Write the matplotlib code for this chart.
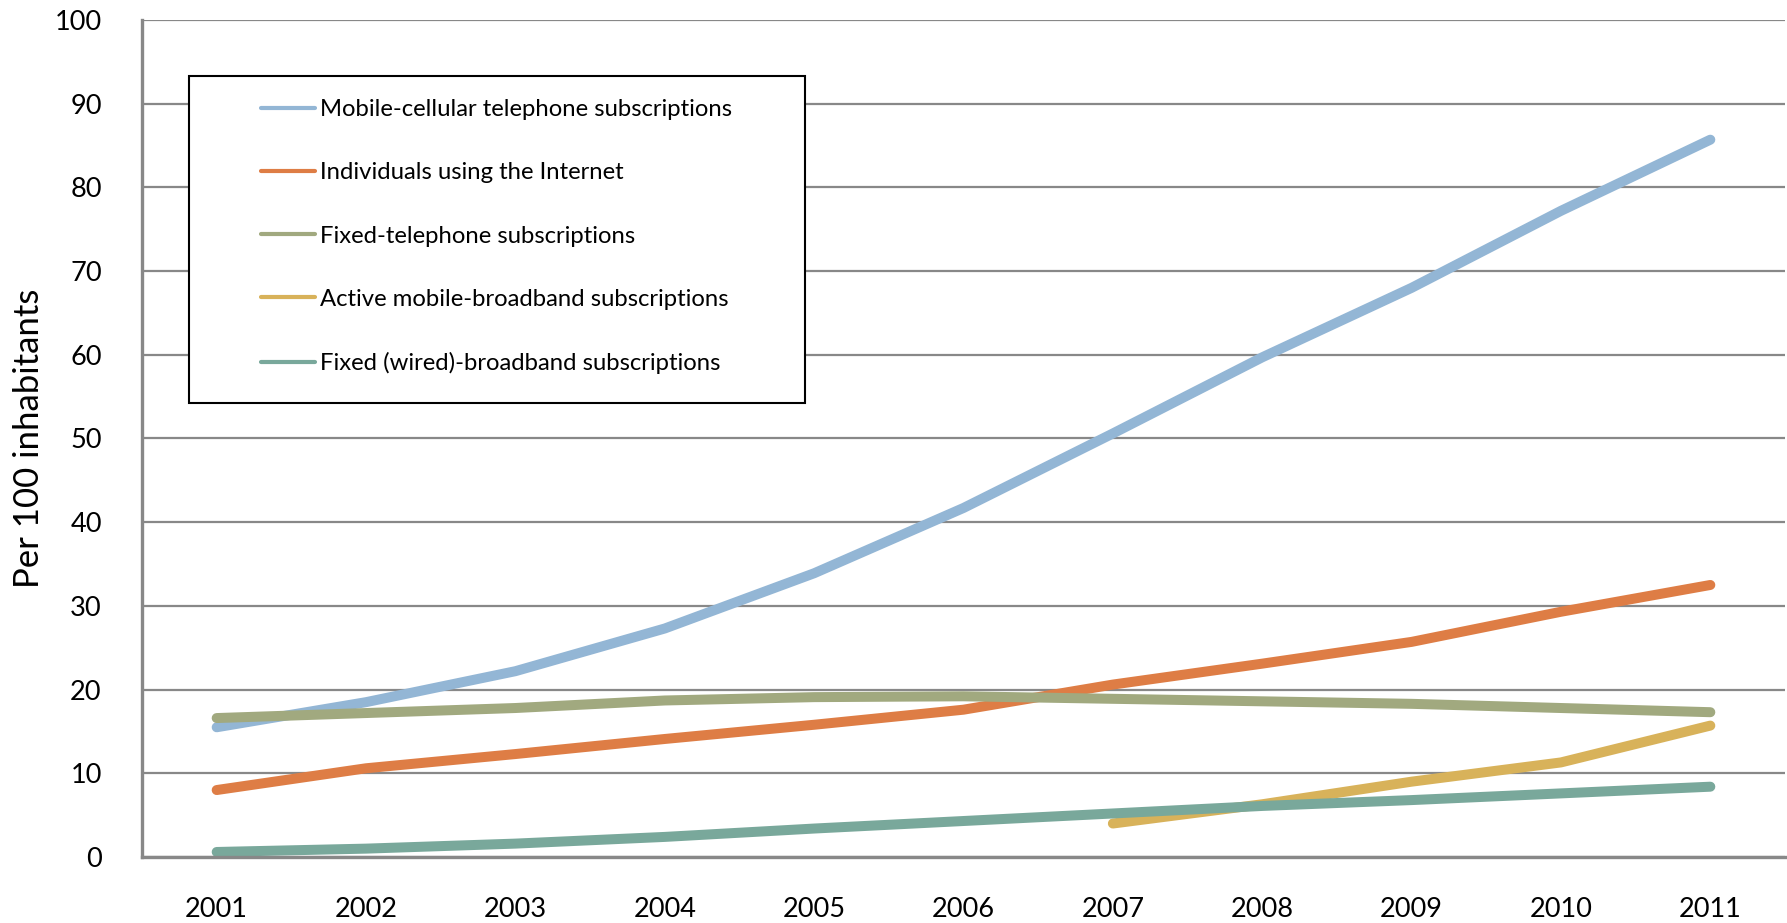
import matplotlib
matplotlib.use("Agg")
from matplotlib import pyplot as plt
from matplotlib.patches import Rectangle

# ICT indicators, world, per 100 inhabitants
years = [2001, 2002, 2003, 2004, 2005, 2006, 2007, 2008, 2009, 2010, 2011]
mobile_cellular = [15.5, 18.5, 22.2, 27.3, 33.9, 41.7, 50.6, 59.7, 68.0, 77.2, 85.7]
internet_users = [8.0, 10.6, 12.3, 14.1, 15.8, 17.6, 20.6, 23.1, 25.7, 29.3, 32.5]
fixed_telephone = [16.6, 17.2, 17.8, 18.7, 19.1, 19.2, 18.9, 18.6, 18.3, 17.8, 17.3]
mobile_bb_years = [2007, 2008, 2009, 2010, 2011]
mobile_broadband = [4.0, 6.3, 9.0, 11.3, 15.7]
fixed_broadband = [0.6, 1.0, 1.6, 2.4, 3.4, 4.3, 5.2, 6.1, 6.8, 7.6, 8.4]

labels = ["Mobile-cellular telephone subscriptions",
          "Individuals using the Internet",
          "Fixed-telephone subscriptions",
          "Active mobile-broadband subscriptions",
          "Fixed (wired)-broadband subscriptions"]
colors = ["#93B6D5", "#DE7D45", "#A1A97F", "#D8B25A", "#79A89B"]

plt.rcParams['font.family'] = ['Lato', 'DejaVu Sans']

W, H = 1787, 923
fig = plt.figure(figsize=(W / 100, H / 100), dpi=100)
ax = fig.add_axes([142 / W, 1 - 857 / H, (1785 - 142) / W, (857 - 20) / H])

lw = 7.2
series = [(years, mobile_cellular), (years, internet_users), (years, fixed_telephone),
          (mobile_bb_years, mobile_broadband), (years, fixed_broadband)]
handles = []
for (xs, ys), lab, col in zip(series, labels, colors):
    h, = ax.plot(xs, ys, color=col, lw=lw, solid_capstyle='round',
                 solid_joinstyle='round', label=lab)
    handles.append(h)

ax.set_ylim(0, 100)
ax.set_xlim(2000.5, 2011.5)
ax.set_yticks(range(0, 101, 10))
ax.set_xticks(years)
ax.tick_params(axis='both', length=0, labelsize=19.5)
ax.tick_params(axis='y', pad=29)
ax.tick_params(axis='x', pad=29)
ax.grid(axis='y', color='#888888', lw=1.6)
ax.set_axisbelow(True)
for s in ['top', 'right']:
    ax.spines[s].set_visible(False)
for s in ['left', 'bottom']:
    ax.spines[s].set_color('#888888')
    ax.spines[s].set_linewidth(2.4)

fig.text(29 / W, 1 - 438 / H, "Per 100 inhabitants", rotation=90,
         ha='center', va='center', fontsize=25)

# legend frame drawn by hand, entries placed inside
fig.patches.append(Rectangle((189 / W, 1 - 403 / H), (805 - 189) / W, (403 - 76) / H,
                             transform=fig.transFigure, fill=True, facecolor='white',
                             edgecolor='black', lw=1.5, zorder=5))
leg = fig.legend(handles=handles, loc='upper left', bbox_to_anchor=(261 / W, 1 - 99 / H),
                 frameon=False, borderpad=0, borderaxespad=0, fontsize=17.2,
                 handlelength=2.26, handletextpad=0.2, labelspacing=1.77)
for lh in leg.get_lines():
    lh.set_linewidth(3)
leg.set_zorder(6)

fig.savefig("out.png", dpi=100)
